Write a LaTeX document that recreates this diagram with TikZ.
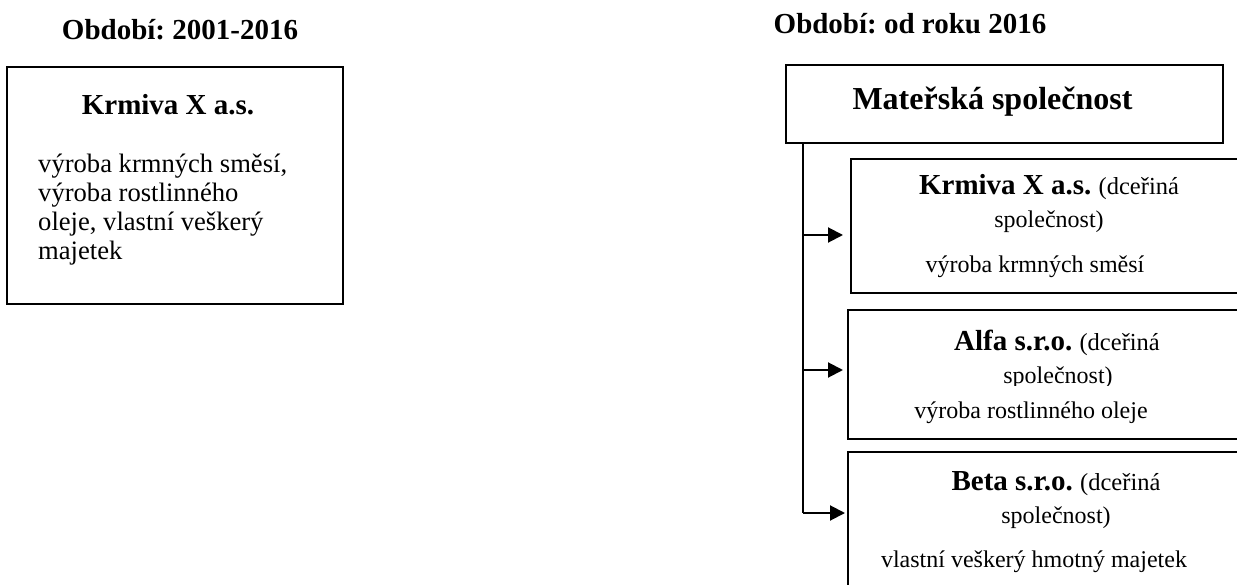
\documentclass[tikz,border=0pt]{standalone}
\usepackage{fontspec}
\setmainfont{Liberation Serif}
\usetikzlibrary{arrows.meta}
\begin{document}
\frenchspacing
\begin{tikzpicture}[x=1pt,y=-1pt,
  box/.style={draw=black, line width=2pt, rectangle, inner sep=0pt},
  reg/.style={font=\fontsize{24}{28}\selectfont, inner sep=0pt, anchor=base},
  bold/.style={font=\fontsize{29}{33}\selectfont\bfseries, inner sep=0pt, anchor=base},
  title/.style={font=\fontsize{29}{33}\selectfont\bfseries, inner sep=0pt, anchor=base},
  arr/.style={line width=2pt, -{Triangle[length=15pt,width=15pt]}},
  trunk/.style={line width=2pt}]
\useasboundingbox (0,0) rectangle (1237,585);
\clip (0,0) rectangle (1237,585);
% titles
\node[title] (t1) at (180,40) {Období: 2001-2016};
\node[title] (t2) at (910,34) {Období: od roku 2016};
% left box
\node[box, minimum width=336pt, minimum height=237pt] (left) at (175,185.5) {};
\node[bold] (lh) at (168,115) {Krmiva X a.s.};
\node[font=\fontsize{26.6}{29}\selectfont, inner sep=0pt, anchor=base west, align=left] (lt) at (38,260)
  {výroba krmných směsí,\\výroba rostlinného\\oleje, vlastní veškerý\\majetek};
% parent box
\node[box, minimum width=437pt, minimum height=78pt] (mat) at (1004.5,104) {};
\node[font=\fontsize{32}{36}\selectfont\bfseries, inner sep=0pt, anchor=base] (math) at (992.5,110) {Mateřská společnost};
% child boxes
\node[box, minimum width=409pt, minimum height=134pt] (b1) at (1055.5,226) {};
\node[reg] (b1a) at (1049,195) {\fontsize{29}{33}\selectfont\bfseries Krmiva X a.s.\ \fontsize{24.5}{28}\selectfont\mdseries (dceřiná};
\node[reg] (b1b) at (1049,228) {společnost)};
\node[reg] (b1c) at (1035,273) {výroba krmných směsí};

\node[box, minimum width=412pt, minimum height=129pt] (b2) at (1054,374.5) {};
\node[reg] (b2a) at (1057,350) {\fontsize{29}{33}\selectfont\bfseries Alfa s.r.o.\ \fontsize{24.5}{28}\selectfont\mdseries (dceřiná};
\begin{scope}
\clip (848,310) rectangle (1260,385.7);
\node[reg] (b2b) at (1058,383) {společnost)};
\end{scope}
\node[reg] (b2c) at (1031,418) {výroba rostlinného oleje};

\node[box, minimum width=412pt, minimum height=158pt] (b3) at (1054,531) {};
\node[reg] (b3a) at (1056,490) {\fontsize{29}{33}\selectfont\bfseries Beta s.r.o.\ \fontsize{24.5}{28}\selectfont\mdseries (dceřiná};
\node[reg] (b3b) at (1056,523) {společnost)};
\node[reg] (b3c) at (1034,567) {vlastní veškerý hmotný majetek};
% connectors
\coordinate (top) at (803,143);
\coordinate (j1) at (803,235);
\coordinate (j2) at (803,370);
\coordinate (j3) at (803,513);
\draw[trunk] (top) -- (j3);
\draw[arr, shorten >=7pt] (j1) -- (b1.west |- j1);
\draw[arr, shorten >=4pt] (j2) -- (b2.west |- j2);
\draw[arr, shorten >=2pt] (j3) -- (b3.west |- j3);
\end{tikzpicture}
\end{document}
